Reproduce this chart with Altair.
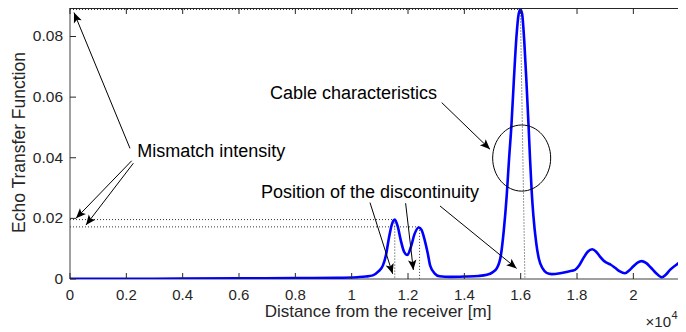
import math
import altair as alt
import pandas as pd

W, H = 608, 271
XMAX, YMAX = 21585, 0.0894
FONT = "Liberation Sans"

# Echo transfer function
dist = [0, 3000, 6000, 8000, 9500, 10200, 10500, 10750, 10950, 11110, 11220, 11310,
        11420, 11530, 11630, 11740, 11860, 11980, 12100, 12230, 12380, 12480, 12590,
        12700, 12790, 12950, 13120, 13500, 14000, 14500, 14800, 15000, 15150, 15300,
        15400, 15500, 15590, 15670, 15760, 15850, 15930, 15990, 16050, 16130, 16210,
        16280, 16330, 16390, 16450, 16550, 16650, 16780, 16920, 17100, 17400, 17700,
        17930, 18080, 18220, 18380, 18540, 18680, 18815, 18930, 19050, 19200, 19350,
        19520, 19700, 19850, 20000, 20150, 20295, 20450, 20620, 20800, 21005, 21150,
        21300, 21540, 21700, 21870]
etf = [0.0001, 0.0001, 0.0002, 0.0003, 0.0004, 0.0006, 0.0008, 0.0012, 0.0025, 0.0045,
       0.0080, 0.0129, 0.0178, 0.0196, 0.0175, 0.0129, 0.0090, 0.0079, 0.0105, 0.0148,
       0.0170, 0.0162, 0.0129, 0.0085, 0.0043, 0.0018, 0.0009, 0.0007, 0.0008, 0.0010,
       0.0014, 0.0022, 0.0035, 0.0080, 0.0160, 0.0270, 0.0400, 0.0505, 0.0660, 0.0800,
       0.0875, 0.0889, 0.0875, 0.0780, 0.0640, 0.0505, 0.0400, 0.0290, 0.0210, 0.0120,
       0.0065, 0.0035, 0.0020, 0.0016, 0.0019, 0.0025, 0.0030, 0.0045, 0.0068, 0.0090,
       0.0098, 0.0090, 0.0074, 0.0062, 0.0054, 0.0047, 0.0037, 0.0025, 0.0019, 0.0028,
       0.0042, 0.0054, 0.0059, 0.0053, 0.0038, 0.0020, 0.0006, 0.0014, 0.0030, 0.0048,
       0.0057, 0.0063]

x_ticks = list(range(0, 20001, 2000))
y_ticks = [0, 0.02, 0.04, 0.06, 0.08]
x_title = "Distance from the receiver [m]"
y_title = "Echo Transfer Function"

# dotted guides from the peaks
peak_x = [11530, 12410, 15990]
peak_y = [0.0196, 0.0172, 0.0889]
guide_bottom_x = [11530, 12410, 16150]

# annotations
text_labels = ["Mismatch intensity", "Cable characteristics", "Position of the discontinuity"]
text_x = [2390, 7100, 6780]
text_y = [0.0404, 0.0594, 0.0268]

tail_x = [2130, 2190, 2250, 13195, 10650, 11915, 13135]
tail_y = [0.0431, 0.0390, 0.0382, 0.0582, 0.0252, 0.0250, 0.0241]
tip_x = [142, 213, 568, 14910, 11455, 12190, 15855]
tip_y = [0.0879, 0.0200, 0.0178, 0.0428, 0.0017, 0.0030, 0.0035]

circle_x = [16035]
circle_y = [0.0399]

xs = alt.Scale(domain=[0, XMAX], nice=False, zero=False)
ys = alt.Scale(domain=[0, YMAX], nice=False, zero=False)


def X(f):
    return alt.X(f, scale=xs, axis=None)


def Y(f):
    return alt.Y(f, scale=ys, axis=None)


curve_df = pd.DataFrame({"d": dist, "e": etf})
line = alt.Chart(curve_df).mark_line(
    color="#0000ff", strokeWidth=2.6, interpolate="monotone", clip=True
).encode(x=X("d:Q"), y=Y("e:Q"))

guides_df = pd.DataFrame({
    "x": [0] * len(peak_x) + peak_x,
    "y": peak_y + peak_y,
    "x2": peak_x + guide_bottom_x,
    "y2": peak_y + [0] * len(peak_x),
})
guides = alt.Chart(guides_df).mark_rule(color="#333333", strokeWidth=1, strokeDash=[1, 2]).encode(
    x=X("x:Q"), y=Y("y:Q"), x2="x2:Q", y2="y2:Q")

kx = W / XMAX
ky = H / YMAX
angles = []
for a, b, c, d in zip(tail_x, tail_y, tip_x, tip_y):
    dx = (c - a) * kx
    dy = -(d - b) * ky
    angles.append(math.degrees(math.atan2(dx, -dy)) % 360)

arrows_df = pd.DataFrame({"tx": tail_x, "ty": tail_y, "hx": tip_x, "hy": tip_y, "ang": angles})
shafts = alt.Chart(arrows_df).mark_rule(color="black", strokeWidth=1).encode(
    x=X("tx:Q"), y=Y("ty:Q"), x2="hx:Q", y2="hy:Q")
heads = alt.Chart(arrows_df).mark_point(
    shape="M0,0L-0.42,1L0,0.78L0.42,1Z", filled=True, size=400, color="black",
    opacity=1, strokeWidth=0).encode(
    x=X("hx:Q"), y=Y("hy:Q"), angle=alt.Angle("ang:Q", scale=None))

texts = alt.Chart(pd.DataFrame({"t": text_labels, "x": text_x, "y": text_y})).mark_text(
    align="left", baseline="alphabetic", font=FONT, fontSize=18, color="black").encode(
    x=X("x:Q"), y=Y("y:Q"), text="t:N")

ellipse = alt.Chart(pd.DataFrame({"x": circle_x, "y": circle_y})).mark_point(
    shape="M-1,0A1,1.14,0,1,1,1,0A1,1.14,0,1,1,-1,0Z", filled=False, size=3364,
    color="black", strokeWidth=1, opacity=1).encode(x=X("x:Q"), y=Y("y:Q"))

# axes drawn by hand (MATLAB style, ticks inside)
xt_df = pd.DataFrame({"v": x_ticks, "lab": [f"{v / 10000:g}" for v in x_ticks]})
yt_df = pd.DataFrame({"v": y_ticks, "lab": [f"{v:g}" for v in y_ticks]})
tick_style = dict(color="#262626", thickness=1, opacity=1)
bottom_ticks = alt.Chart(xt_df).mark_tick(size=6, orient="vertical", **tick_style).encode(
    x=X("v:Q"), y=alt.value(H - 3))
top_ticks = alt.Chart(xt_df).mark_tick(size=6, orient="vertical", **tick_style).encode(
    x=X("v:Q"), y=alt.value(3))
left_ticks = alt.Chart(yt_df).mark_tick(size=6, orient="horizontal", **tick_style).encode(
    y=Y("v:Q"), x=alt.value(3))

x_labels = alt.Chart(xt_df).mark_text(
    align="center", baseline="alphabetic", font=FONT, fontSize=15, color="#262626").encode(
    x=X("v:Q"), y=alt.value(H + 21.2), text="lab:N")
y_labels = alt.Chart(yt_df).mark_text(
    align="right", baseline="middle", font=FONT, fontSize=15.5, color="#262626").encode(
    y=Y("v:Q"), x=alt.value(-7), text="lab:N")

title_df = pd.DataFrame({"t": [x_title]})
x_title_mark = alt.Chart(title_df).mark_text(
    align="center", baseline="alphabetic", font=FONT, fontSize=17, color="#262626").encode(
    x=alt.value(308), y=alt.value(309), text="t:N")
y_title_mark = alt.Chart(pd.DataFrame({"t": [y_title]})).mark_text(
    align="center", baseline="alphabetic", font=FONT, fontSize=17.5, color="#262626",
    angle=270).encode(x=alt.value(-45.5), y=alt.value(134.5), text="t:N")

border_df = pd.DataFrame({"k": ["b"]})
left_domain = alt.Chart(border_df).mark_rule(color="#808080", strokeWidth=1.5).encode(
    x=alt.value(0), y=alt.value(0), y2=alt.value(H))
bottom_domain = alt.Chart(border_df).mark_rule(color="#808080", strokeWidth=1.5).encode(
    x=alt.value(0), x2=alt.value(W), y=alt.value(H))
top_border = alt.Chart(border_df).mark_rule(color="#262626", strokeWidth=1).encode(
    x=alt.value(0), x2=alt.value(W), y=alt.value(0.5))

exp_base = alt.Chart(pd.DataFrame({"t": ["\u00d710"]})).mark_text(
    align="right", baseline="alphabetic", font=FONT, fontSize=15, color="#262626").encode(
    x=alt.value(W - 7), y=alt.value(319), text="t:N")
exp_sup = alt.Chart(pd.DataFrame({"t": ["4"]})).mark_text(
    align="left", baseline="alphabetic", font=FONT, fontSize=11, color="#262626").encode(
    x=alt.value(W - 6.5), y=alt.value(311), text="t:N")

chart = alt.layer(
    left_domain, bottom_domain, top_border,
    guides, line, shafts, heads, texts, ellipse,
    bottom_ticks, top_ticks, left_ticks, x_labels, y_labels,
    x_title_mark, y_title_mark, exp_base, exp_sup,
).properties(
    width=W, height=H,
    autosize=alt.AutoSizeParams(type="none"),
    padding={"left": 62, "top": 0, "right": 0, "bottom": 50},
).configure_view(stroke=None)

chart.save("out.html", embed_options={"renderer": "svg", "actions": False})
